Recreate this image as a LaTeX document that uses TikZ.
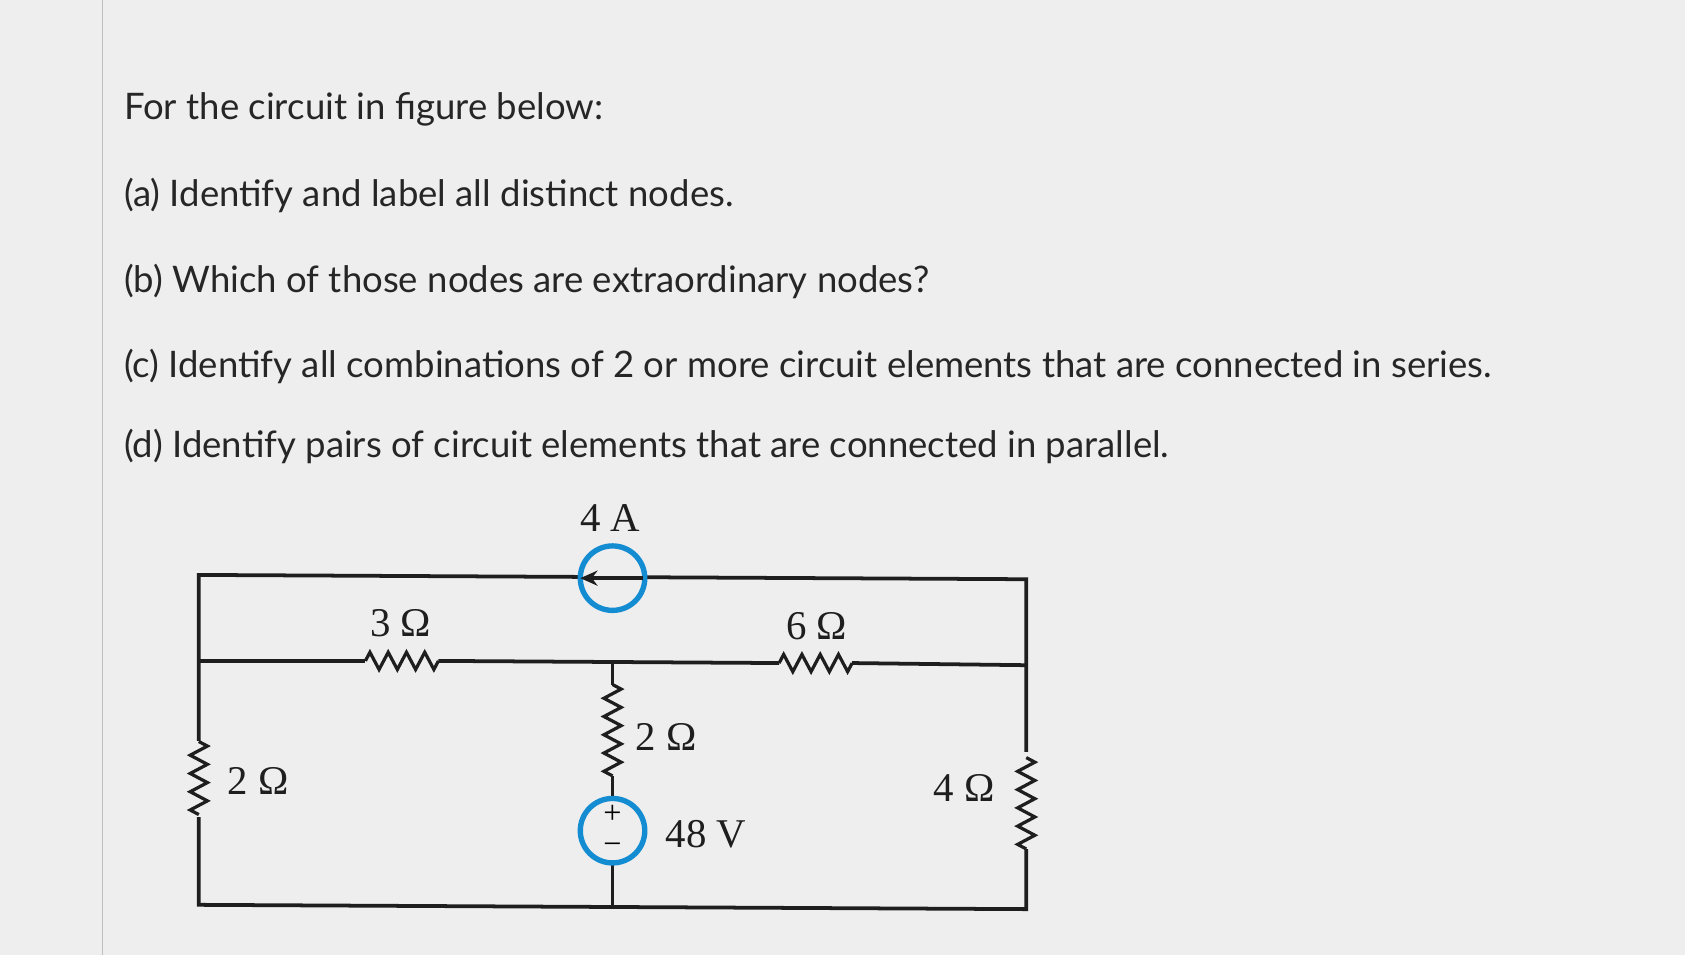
\documentclass[tikz,border=0pt]{standalone}
\usepackage{fontspec}
\setmainfont{Lato}
\newfontfamily\circfont{Liberation Serif}
\usetikzlibrary{decorations.pathmorphing,arrows.meta}
\definecolor{bgc}{RGB}{238,238,238}
\definecolor{srcblue}{RGB}{20,140,210}
\definecolor{wire}{RGB}{30,30,30}
\begin{document}
\begin{tikzpicture}[x=1pt,y=-1pt,
  wirestyle/.style={line width=3.5pt,color=wire},
  res/.style={line width=3pt,color=wire,decorate,decoration={zigzag,segment length=17pt,amplitude=8pt}},
  src/.style={circle,draw=srcblue,line width=5pt,minimum size=60pt,inner sep=0pt,fill=bgc},
  lbl/.style={font=\circfont\fontsize{38}{44}\selectfont,text=wire},
  qtext/.style={anchor=west,font=\fontsize{34}{40}\selectfont,text=black!85}]
\fill[bgc] (0,0) rectangle (1568,889);
\useasboundingbox (0,0) rectangle (1568,889);
\draw[line width=1pt,black!25] (95,0) -- (95,889);
\node[qtext] (t0) at (112,102) {For the circuit in figure below:};
\node[qtext] (t1) at (112,182) {(a) Identify and label all distinct nodes.};
\node[qtext] (t2) at (112,262) {(b) Which of those nodes are extraordinary nodes?};
\node[qtext] (t3) at (112,341) {(c) Identify all combinations of 2 or more circuit elements that are connected in series.};
\node[qtext] (t4) at (112,415) {(d) Identify pairs of circuit elements that are connected in parallel.};
% wires
\coordinate (TL) at (185,535); \coordinate (TR) at (955,539);
\coordinate (ML) at (185,615); \coordinate (MR) at (955,619);
\coordinate (BL) at (185,842); \coordinate (BR) at (955,846);
\draw[wirestyle] (TL) -- (TR) -- (BR) -- (BL) -- cycle;
\draw[wirestyle] (ML) -- (340,615); \draw[res] (340,615) -- (408,615); \draw[wirestyle] (408,615) -- (725,617);
\draw[res] (725,617) -- (793,617); \draw[wirestyle] (793,617) -- (MR);
% left and right resistors
\fill[bgc] (180,690) rectangle (190,760);
\draw[res] (185,690) -- (185,758);
\fill[bgc] (950,700) rectangle (960,790);
\draw[res] (955,705) -- (955,790);
% middle branch
\draw[wirestyle] (570,615) -- (570,637);
\draw[res] (570,637) -- (570,722);
\draw[wirestyle] (570,722) -- (570,844);
\node[src] (cs) at (570,538) {};
\coordinate (aS) at (598,538); \coordinate (aE) at (540,538);
\draw[line width=3.5pt,draw=wire,-{Stealth[length=16pt,width=14pt]}] (aS) -- (aE);
\node[src] (vs) at (570,773) {};
\node[font=\circfont\fontsize{30}{32}\selectfont] (plus) at (570,758) {+};
\node[font=\circfont\fontsize{30}{32}\selectfont] (minus) at (570,790) {−};
% labels
\node[lbl] (l4a) at (568,482) {4 A};
\node[lbl] (l3) at (373,580) {3 Ω};
\node[lbl] (l6) at (760,583) {6 Ω};
\node[lbl] (l2m) at (620,686) {2 Ω};
\node[lbl] (l2l) at (240,727) {2 Ω};
\node[lbl] (l4) at (897,733) {4 Ω};
\node[lbl] (l48) at (657,776) {48 V};
\end{tikzpicture}
\end{document}
